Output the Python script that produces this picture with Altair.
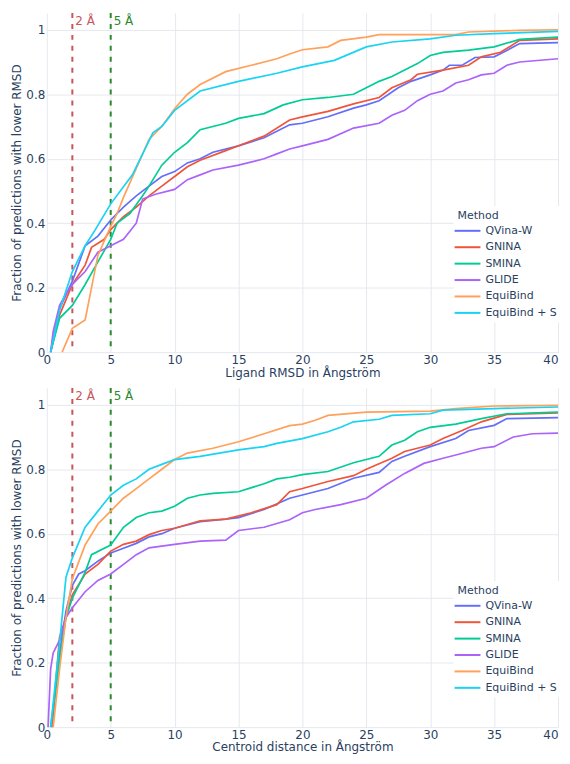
import altair as alt
import pandas as pd

methods = ["QVina-W", "GNINA", "SMINA", "GLIDE", "EquiBind", "EquiBind + S"]
colors = ["#636EFA", "#EF553B", "#00CC96", "#AB63FA", "#FFA15A", "#19D3F3"]

# ---- Top panel: Ligand RMSD ----
rmsd_qvina_x = [0.3, 1, 2, 3, 4, 5, 6, 7, 8, 9, 10, 11, 12, 13, 15, 17, 19, 20, 22, 24, 25, 26, 27.5, 28.5, 30, 31, 31.5, 32.5, 33.5, 35, 36, 37, 40]
rmsd_qvina_y = [0, 0.135, 0.22, 0.33, 0.36, 0.41, 0.45, 0.485, 0.515, 0.545, 0.56, 0.587, 0.60, 0.62, 0.64, 0.665, 0.705, 0.71, 0.73, 0.757, 0.767, 0.78, 0.82, 0.84, 0.86, 0.875, 0.89, 0.89, 0.914, 0.916, 0.936, 0.957, 0.96]
rmsd_gnina_x = [0.3, 1, 2, 3, 3.5, 4.5, 5, 6, 7, 8, 9, 10, 11, 12, 14, 15, 17, 19, 20, 22, 24, 26, 27, 28.5, 29, 31, 33, 34, 35.5, 37, 40]
rmsd_gnina_y = [0, 0.115, 0.21, 0.27, 0.325, 0.35, 0.38, 0.42, 0.45, 0.485, 0.515, 0.545, 0.575, 0.595, 0.625, 0.64, 0.67, 0.72, 0.73, 0.747, 0.77, 0.79, 0.82, 0.845, 0.862, 0.875, 0.89, 0.916, 0.93, 0.967, 0.972]
rmsd_smina_x = [0.3, 1, 2, 3, 4, 5, 5.5, 6.5, 7.5, 8, 9, 10, 11, 12, 14, 15, 17, 18.5, 20, 22, 24, 25, 26, 27, 28, 29, 30, 31, 33, 35, 37, 40]
rmsd_smina_y = [0, 0.105, 0.145, 0.21, 0.28, 0.35, 0.40, 0.43, 0.485, 0.515, 0.58, 0.62, 0.65, 0.69, 0.71, 0.725, 0.74, 0.767, 0.783, 0.79, 0.80, 0.82, 0.84, 0.855, 0.875, 0.895, 0.92, 0.93, 0.937, 0.947, 0.97, 0.977]
rmsd_glide_x = [0.3, 0.5, 1, 1.5, 2, 3, 4, 5, 6, 7, 7.5, 8.5, 10, 11, 12, 13, 15, 17, 18, 19, 20, 22, 24, 26, 27, 28, 29, 30, 31, 32, 33, 34, 35, 36, 37, 40]
rmsd_glide_y = [0, 0.064, 0.145, 0.18, 0.21, 0.25, 0.31, 0.33, 0.35, 0.40, 0.475, 0.49, 0.505, 0.535, 0.55, 0.565, 0.58, 0.60, 0.615, 0.63, 0.64, 0.66, 0.695, 0.71, 0.735, 0.75, 0.78, 0.80, 0.81, 0.835, 0.845, 0.86, 0.865, 0.89, 0.90, 0.91]
rmsd_equibind_x = [1.2, 2, 3, 3.5, 4, 5, 5.5, 6, 7, 8, 9, 10, 11, 12, 14, 16, 18, 19, 20, 22, 23, 25, 26, 32, 33, 37, 40]
rmsd_equibind_y = [0, 0.074, 0.10, 0.20, 0.30, 0.39, 0.43, 0.48, 0.57, 0.66, 0.70, 0.755, 0.80, 0.83, 0.87, 0.89, 0.91, 0.925, 0.938, 0.947, 0.967, 0.977, 0.985, 0.985, 0.993, 0.998, 1.0]
rmsd_equibinds_x = [0.3, 1, 2, 3, 3.8, 5, 6.7, 8.3, 9, 10, 12, 15, 18, 20, 22.5, 25, 27, 30, 32, 35, 40]
rmsd_equibinds_y = [0, 0.13, 0.25, 0.33, 0.38, 0.46, 0.55, 0.68, 0.70, 0.75, 0.81, 0.84, 0.865, 0.885, 0.905, 0.947, 0.962, 0.972, 0.983, 0.988, 0.995]

# ---- Bottom panel: Centroid distance ----
cent_qvina_x = [0.4, 1, 1.5, 2, 2.5, 3, 4, 5, 6, 7, 8, 9, 10, 12, 14, 15, 17, 19, 20, 22, 24, 26, 27, 28, 30, 32, 33, 35, 36, 40]
cent_qvina_y = [0, 0.23, 0.36, 0.44, 0.475, 0.485, 0.515, 0.54, 0.555, 0.57, 0.59, 0.60, 0.617, 0.637, 0.645, 0.65, 0.675, 0.71, 0.72, 0.74, 0.772, 0.79, 0.824, 0.84, 0.87, 0.895, 0.92, 0.936, 0.957, 0.96]
cent_gnina_x = [0.4, 1, 1.5, 2, 3, 4, 5, 6, 7, 8, 9, 10, 12, 14, 16, 18, 19, 20, 22, 24, 25, 27, 28, 30, 31, 32.5, 34, 36, 40]
cent_gnina_y = [0, 0.28, 0.34, 0.41, 0.475, 0.505, 0.546, 0.567, 0.577, 0.597, 0.61, 0.617, 0.64, 0.645, 0.665, 0.69, 0.73, 0.74, 0.762, 0.78, 0.80, 0.834, 0.855, 0.875, 0.895, 0.92, 0.947, 0.97, 0.975]
cent_smina_x = [0.3, 1, 1.5, 2, 3, 3.5, 5, 6, 7, 8, 9, 10, 11, 12, 13, 15, 17, 18, 19, 20, 22, 24, 26, 27, 28, 29, 30, 32, 34, 36, 40]
cent_smina_y = [0, 0.21, 0.34, 0.40, 0.48, 0.535, 0.565, 0.62, 0.65, 0.665, 0.67, 0.685, 0.71, 0.72, 0.725, 0.73, 0.755, 0.77, 0.775, 0.783, 0.793, 0.82, 0.84, 0.875, 0.89, 0.916, 0.93, 0.94, 0.957, 0.972, 0.977]
cent_glide_x = [0.1, 0.3, 0.5, 1, 1.5, 2, 3, 4, 5, 6, 7, 8, 10, 12, 14, 15, 17, 19, 20, 21, 23, 25, 26.5, 28, 29.5, 31, 32, 34, 35, 36.5, 38, 40]
cent_glide_y = [0, 0.18, 0.23, 0.27, 0.34, 0.37, 0.42, 0.455, 0.475, 0.505, 0.535, 0.556, 0.567, 0.577, 0.58, 0.61, 0.62, 0.643, 0.665, 0.675, 0.69, 0.71, 0.75, 0.787, 0.818, 0.834, 0.844, 0.865, 0.87, 0.90, 0.91, 0.912]
cent_equibind_x = [0.5, 1, 1.5, 2, 3, 4, 5, 6, 7, 8, 9, 10, 11, 13, 15, 17, 19, 20, 21, 22, 25, 30, 32, 35, 40]
cent_equibind_y = [0, 0.18, 0.34, 0.46, 0.565, 0.63, 0.67, 0.71, 0.74, 0.77, 0.80, 0.83, 0.85, 0.865, 0.885, 0.91, 0.935, 0.94, 0.952, 0.967, 0.977, 0.98, 0.988, 0.996, 0.998]
cent_equibinds_x = [0.3, 1, 1.5, 2, 3, 4, 5, 6, 7, 8, 9, 10, 12, 15, 17, 18, 20, 22, 23, 24, 26, 27, 30, 31, 35, 40]
cent_equibinds_y = [0, 0.26, 0.465, 0.525, 0.62, 0.67, 0.72, 0.75, 0.77, 0.80, 0.815, 0.83, 0.84, 0.86, 0.87, 0.88, 0.895, 0.916, 0.93, 0.947, 0.955, 0.967, 0.972, 0.983, 0.988, 0.993]

thr_x = [2, 5]
thr_label = ["2 Å", "5 Å"]
thr_color = ["#C8555A", "#2A8A2A"]

x_ticks = [0, 5, 10, 15, 20, 25, 30, 35, 40]
y_ticks = [0, 0.2, 0.4, 0.6, 0.8, 1]


def make_df(series):
    rows = []
    for m, (xs, ys) in zip(methods, series):
        for a, b in zip(xs, ys):
            rows.append({"method": m, "x": a, "y": b})
    return pd.DataFrame(rows)


df_top = make_df([
    (rmsd_qvina_x, rmsd_qvina_y), (rmsd_gnina_x, rmsd_gnina_y),
    (rmsd_smina_x, rmsd_smina_y), (rmsd_glide_x, rmsd_glide_y),
    (rmsd_equibind_x, rmsd_equibind_y), (rmsd_equibinds_x, rmsd_equibinds_y),
])
df_bot = make_df([
    (cent_qvina_x, cent_qvina_y), (cent_gnina_x, cent_gnina_y),
    (cent_smina_x, cent_smina_y), (cent_glide_x, cent_glide_y),
    (cent_equibind_x, cent_equibind_y), (cent_equibinds_x, cent_equibinds_y),
])
df_thr = pd.DataFrame({"x": thr_x, "label": thr_label, "color": thr_color})

FONT = "DejaVu Sans"
TXT = "#2a3f5f"
W, H = 514, 341


def panel(df, xtitle):
    xs = alt.Scale(domain=[0, 40], nice=False, zero=False)
    ys = alt.Scale(domain=[0, 1.052], nice=False)
    lines = alt.Chart(df).mark_line(strokeWidth=1.7).encode(
        x=alt.X("x:Q", scale=xs, title=xtitle,
                axis=alt.Axis(values=x_ticks, format="~g",
                              labelAlign=alt.ExprRef(expr="datum.value >= 40 ? 'right' : 'center'"))),
        y=alt.Y("y:Q", scale=ys, title="Fraction of predictions with lower RMSD",
                axis=alt.Axis(values=y_ticks, format="~g")),
        color=alt.Color("method:N", scale=alt.Scale(domain=methods, range=colors),
                        legend=alt.Legend(title="Method", orient="none",
                                          legendX=409, legendY=194)),
    )
    rules = alt.Chart(df_thr).mark_rule(strokeWidth=2, strokeDash=[5, 6]).encode(
        x=alt.X("x:Q", scale=xs),
        color=alt.Color("color:N", scale=None),
    )
    labels = alt.Chart(df_thr).mark_text(
        align="left", baseline="middle", dx=3, fontSize=12, font=FONT
    ).encode(
        x=alt.X("x:Q", scale=xs),
        y=alt.value(8),
        text="label:N",
        color=alt.Color("color:N", scale=None),
    )
    return alt.layer(rules, lines, labels).properties(width=W, height=H)


top = panel(df_top, "Ligand RMSD in Ångström")
bot = panel(df_bot, "Centroid distance in Ångström")

chart = alt.vconcat(top, bot, spacing=36, bounds="flush").resolve_legend(
    color="independent"
).resolve_scale(color="independent").properties(
    padding={"left": 2, "top": 2, "right": 0, "bottom": 0},
).configure_view(stroke=None).configure_axis(
    grid=True, gridColor="#E5E8EE", domain=False, ticks=False,
    labelFont=FONT, titleFont=FONT, labelFontSize=12, titleFontSize=12,
    labelColor=TXT, titleColor=TXT, titleFontWeight="normal", labelPadding=2,
).configure_axisX(titlePadding=2).configure_axisY(titlePadding=2).configure_legend(
    fillColor="white", titleFont=FONT, labelFont=FONT, titleFontSize=11,
    labelFontSize=11, titleColor=TXT, labelColor=TXT, titleFontWeight="normal",
    symbolType="M-1.5,0H1.5", symbolStrokeWidth=2, symbolSize=300, rowPadding=1.5,
    labelOffset=8, titlePadding=0, padding=4,
)

chart.save("out.html", embed_options={"renderer": "svg", "actions": False})
